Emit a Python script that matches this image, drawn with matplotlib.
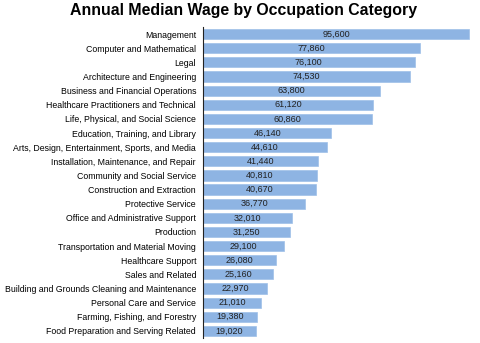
import numpy as np
import matplotlib.pyplot as plt

categories = [
    'Management', 'Computer and Mathematical', 'Legal',
    'Architecture and Engineering', 'Business and Financial Operations',
    'Healthcare Practitioners and Technical', 'Life, Physical, and Social Science',
    'Education, Training, and Library', 'Arts, Design, Entertainment, Sports, and Media',
    'Installation, Maintenance, and Repair', 'Community and Social Service',
    'Construction and Extraction', 'Protective Service',
    'Office and Administrative Support', 'Production',
    'Transportation and Material Moving', 'Healthcare Support', 'Sales and Related',
    'Building and Grounds Cleaning and Maintenance', 'Personal Care and Service',
    'Farming, Fishing, and Forestry', 'Food Preparation and Serving Related',
]
wages = [95600, 77860, 76100, 74530, 63800, 61120, 60860, 46140, 44610, 41440,
         40810, 40670, 36770, 32010, 31250, 29100, 26080, 25160, 22970, 21010,
         19380, 19020]

plt.rcParams['font.family'] = ['Liberation Sans', 'DejaVu Sans']

fig = plt.figure(figsize=(4.8, 3.43), dpi=100)
ax = fig.add_axes([203 / 480, 5 / 343, 267 / 480, 311 / 343])

y = np.arange(len(categories))
ax.barh(y, wages, height=0.72, color='#8eb4e3', edgecolor='#9fc0e8', linewidth=0.5)

# value labels centred in bars
for yi, w in zip(y, wages):
    ax.text(w / 2, yi, f'{w:,}', ha='center', va='center', fontsize=6.5, color='#222222')

ax.set_yticks(y)
ax.set_yticklabels(categories, fontsize=6.3)
ax.tick_params(axis='y', length=0, pad=5)
ax.set_xticks([])
ax.set_xlim(0, 96000)
ax.set_ylim(len(categories) - 0.5, -0.5)

for s in ['top', 'right', 'bottom']:
    ax.spines[s].set_visible(False)
ax.spines['left'].set_color('#222222')
ax.spines['left'].set_linewidth(0.8)

fig.suptitle('Annual Median Wage by Occupation Category', fontsize=11.4, fontweight='bold',
             x=244 / 480, y=0.99, va='top')

fig.savefig('out.png', dpi=100)
